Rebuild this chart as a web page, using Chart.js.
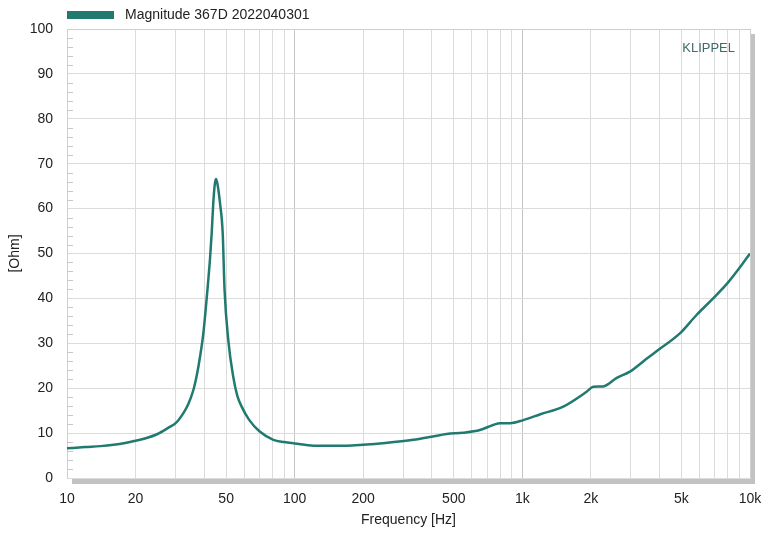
<!DOCTYPE html>
<html>
<head>
<meta charset="utf-8">
<script src="https://cdn.jsdelivr.net/npm/chart.js@4"></script>
<style>
  html, body { margin: 0; padding: 0; background: #ffffff; }
  #wrap { width: 766px; height: 533px; position: relative; }
</style>
</head>
<body>
<div id="wrap"><canvas id="c" width="766" height="533"></canvas></div>
<script>
// ---- data ----
const seriesLabel = 'Magnitude 367D 2022040301';
const freqHz = [10, 12, 14, 16, 18, 20, 22, 25, 28.3, 30, 32.4, 34, 35.9, 37.2, 38.4, 39.7, 41.4, 42.5, 43.2, 43.9, 44.6, 45.1, 45.8, 47.0, 48.3, 49.2, 51.1, 53.7, 56, 58.5, 63, 70, 80.6, 90, 100, 121, 169, 200, 250, 332, 400, 465, 550, 651, 745, 798, 883, 1010, 1200, 1513, 1915, 2048, 2266, 2600, 2970, 3500, 3950, 4920, 5820, 6890, 8000, 9000, 10000];
const ohm    = [6.6, 6.9, 7.1, 7.4, 7.8, 8.3, 8.8, 9.8, 11.4, 12.2, 14.4, 16.3, 19.6, 23, 27, 32.2, 42, 49, 54.5, 61.2, 65.5, 66.6, 65.5, 61.2, 54.5, 42, 30.7, 22.6, 18.3, 15.9, 13.0, 10.4, 8.5, 8.0, 7.7, 7.2, 7.2, 7.4, 7.8, 8.5, 9.2, 9.8, 10.1, 10.7, 11.8, 12.2, 12.2, 12.9, 14.2, 15.9, 19.2, 20.3, 20.4, 22.3, 23.7, 26.5, 28.5, 32.2, 36.3, 40.0, 43.5, 46.8, 50];
const xLabelValues = [10, 20, 50, 100, 200, 500, 1000, 2000, 5000, 10000];
const xLabelTexts  = ['10', '20', '50', '100', '200', '500', '1k', '2k', '5k', '10k'];
const xGridMultipliers = [1, 2, 3, 4, 5, 6, 7, 8, 9];
const xDecades = [10, 100, 1000];
const yMinorStep = 2;

const lineColor = '#217a70';
const gridColor = '#dcdcdc';
const decadeGridColor = '#c4c4c4';
const FONT = "'Liberation Sans', Arial, sans-serif";

const points = freqHz.map((f, i) => ({ x: f, y: ohm[i] }));
const xGridValues = [];
xDecades.forEach(d => xGridMultipliers.forEach(m => xGridValues.push(d * m)));
xGridValues.push(10000);

const framePlugin = {
  id: 'frame',
  beforeDatasetsDraw(chart) {
    const { ctx, chartArea: a, scales } = chart;
    ctx.save();
    ctx.strokeStyle = '#c8c8c8';
    ctx.lineWidth = 1;
    const ys = scales.y;
    for (let k = 0; k * yMinorStep < ys.max; k++) {
      const v = k * yMinorStep;
      if (v % 10 === 0) continue;
      const py = Math.round(ys.getPixelForValue(v)) + 0.5;
      ctx.beginPath();
      ctx.moveTo(a.left, py);
      ctx.lineTo(a.left + 6, py);
      ctx.stroke();
    }
    ctx.restore();
  },
  afterDraw(chart) {
    const { ctx, chartArea: a } = chart;
    ctx.save();
    ctx.fillStyle = '#c2c2c2';
    ctx.fillRect(a.left + 5, a.bottom + 1, a.right - a.left - 1, 5);
    ctx.fillRect(a.right + 1, a.top + 5, 4, a.bottom - a.top + 1);
    ctx.strokeStyle = '#cfcfcf';
    ctx.lineWidth = 1;
    ctx.beginPath();
    ctx.moveTo(a.left + 0.5, a.top + 0.5);
    ctx.lineTo(a.right + 0.5, a.top + 0.5);
    ctx.lineTo(a.right + 0.5, a.bottom + 0.5);
    ctx.stroke();
    const ds = chart.data.datasets[0];
    ctx.fillStyle = ds.borderColor;
    ctx.fillRect(a.left, 11, 47, 8);
    ctx.fillStyle = '#222222';
    ctx.font = '14px ' + FONT;
    ctx.textBaseline = 'middle';
    ctx.textAlign = 'left';
    ctx.fillText(ds.label, a.left + 58, 15);
    ctx.fillStyle = '#3d6b6b';
    ctx.font = '13px ' + FONT;
    ctx.textAlign = 'right';
    ctx.fillText('KLIPPEL', a.right - 15, 48);
    ctx.restore();
  }
};

new Chart(document.getElementById('c'), {
  type: 'line',
  data: {
    datasets: [{
      label: seriesLabel,
      data: points,
      borderColor: lineColor,
      backgroundColor: lineColor,
      borderWidth: 2.5,
      pointRadius: 0,
      cubicInterpolationMode: 'monotone',
      fill: false
    }]
  },
  options: {
    responsive: false,
    animation: false,
    events: [],
    layout: { padding: { top: 29, right: 16, bottom: 0, left: 0 } },
    plugins: {
      legend: { display: false },
      tooltip: { enabled: false }
    },
    scales: {
      x: {
        type: 'logarithmic',
        min: 10,
        max: 10000,
        afterBuildTicks(scale) {
          scale.ticks = xGridValues.map(v => ({ value: v }));
        },
        afterFit(scale) {
          scale.height = 55;
          scale.paddingLeft = 0;
          scale.paddingRight = 0;
        },
        grid: {
          color: ctx => (ctx.tick && xDecades.concat([10000]).includes(ctx.tick.value) ? decadeGridColor : gridColor),
          drawTicks: false,
          lineWidth: 1
        },
        border: { display: false },
        ticks: {
          autoSkip: false,
          maxRotation: 0,
          padding: 13,
          color: '#222222',
          font: { family: FONT, size: 14 },
          callback(value) {
            const i = xLabelValues.indexOf(value);
            return i >= 0 ? xLabelTexts[i] : '';
          }
        },
        title: {
          display: true,
          text: 'Frequency [Hz]',
          color: '#222222',
          font: { family: FONT, size: 14 },
          padding: { top: 0, bottom: 4 }
        }
      },
      y: {
        min: 0,
        max: 100,
        afterFit(scale) { scale.width = 67; },
        grid: { color: gridColor, drawTicks: false, lineWidth: 1 },
        border: { display: true, color: '#cfcfcf' },
        ticks: {
          stepSize: 10,
          padding: 14,
          color: '#222222',
          font: { family: FONT, size: 14 }
        },
        title: {
          display: true,
          text: '[Ohm]',
          color: '#222222',
          font: { family: FONT, size: 14 },
          padding: { top: 7, bottom: 0 }
        }
      }
    }
  },
  plugins: [framePlugin]
});
</script>
</body>
</html>
